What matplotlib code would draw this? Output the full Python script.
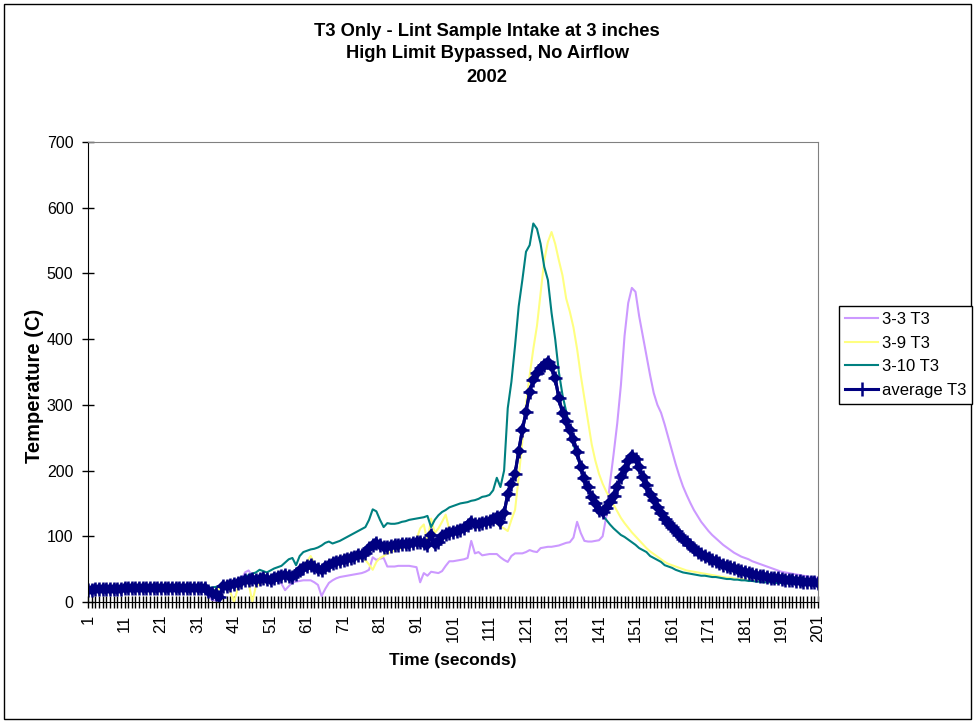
import matplotlib
matplotlib.use("Agg")
import matplotlib.pyplot as plt
from matplotlib.patches import Rectangle
from matplotlib.ticker import MultipleLocator, FixedLocator

# ==================== data ====================
time_s = list(range(1, 202))

t3_3_3 = [
    19, 19, 20, 20, 20, 20, 20, 20, 20, 20,
    21, 21, 21, 21, 21, 21, 21, 21, 21, 21,
    22, 22, 22, 22, 22, 22, 22, 22, 21, 22,
    22, 22, 21, 10, 3, 2, 12, 22, 24, 26,
    28, 30, 33, 45, 48, 40, 33, 30, 31, 32,
    33, 34, 35, 28, 18, 24, 30, 31, 32, 33,
    33, 33, 30, 26, 9, 20, 29, 33, 36, 38,
    39, 40, 41, 42, 43, 44, 46, 49, 68, 64,
    66, 67, 54, 54, 54, 55, 55, 55, 55, 54,
    53, 30, 44, 40, 46, 45, 44, 47, 55, 62,
    62, 63, 64, 65, 67, 93, 74, 76, 71, 72,
    73, 73, 73, 68, 64, 61, 70, 74, 74, 74,
    76, 79, 77, 76, 82, 83, 84, 84, 85, 86,
    88, 90, 91, 98, 122, 105, 93, 92, 92, 93,
    94, 100, 130, 181, 225, 272, 330, 405, 455, 478,
    472, 435, 405, 375, 345, 318, 300, 288, 270, 250,
    230, 210, 192, 176, 163, 151, 140, 131, 122, 115,
    108, 102, 97, 92, 87, 83, 79, 75, 72, 69,
    67, 65, 62, 60, 58, 56, 54, 52, 50, 48,
    46, 45, 44, 43, 42, 41, 40, 39, 38, 37,
    37,
]

t3_3_9 = [
    19, 19, 20, 20, 20, 20, 20, 20, 20, 20,
    21, 21, 21, 21, 21, 21, 21, 21, 21, 21,
    22, 22, 22, 22, 22, 22, 22, 22, 21, 22,
    22, 22, 21, 20, 18, 18, 20, 22, 24, 15,
    0, 20, 25, 33, 30, 0, 24, 28, 30, 32,
    34, 36, 38, 40, 41, 39, 38, 42, 50, 55,
    62, 70, 59, 52, 50, 54, 57, 59, 61, 62,
    64, 66, 67, 68, 67, 66, 64, 57, 49, 61,
    67, 70, 74, 76, 78, 80, 82, 84, 86, 88,
    95, 112, 118, 92, 127, 105, 112, 122, 133, 110,
    108, 110, 112, 114, 117, 119, 120, 121, 122, 124,
    125, 127, 120, 115, 112, 108, 125, 140, 190, 245,
    300, 345, 385, 420, 470, 520, 548, 563, 545, 520,
    497, 462, 442, 418, 385, 345, 310, 275, 240, 215,
    195, 180, 168, 158, 148, 138, 128, 120, 113, 106,
    100, 94, 88, 82, 77, 73, 69, 65, 61, 58,
    56, 54, 52, 50, 48, 47, 46, 45, 44, 43,
    42, 41, 40, 39, 38, 37, 37, 36, 35, 35,
    34, 33, 33, 32, 32, 31, 31, 30, 30, 30,
    29, 29, 29, 28, 28, 28, 27, 27, 27, 27,
    27,
]

t3_3_10 = [
    19, 19, 20, 20, 20, 20, 20, 20, 20, 20,
    21, 21, 21, 21, 21, 21, 21, 21, 21, 21,
    22, 22, 22, 22, 22, 22, 22, 22, 22, 22,
    22, 22, 22, 22, 22, 23, 23, 24, 25, 27,
    29, 31, 33, 37, 41, 43, 45, 49, 47, 45,
    48, 51, 53, 55, 60, 65, 67, 56, 70, 76,
    78, 80, 81, 83, 86, 90, 92, 89, 91, 93,
    96, 99, 102, 105, 108, 111, 114, 125, 141, 138,
    125, 114, 120, 119, 119, 120, 122, 123, 125, 126,
    127, 128, 129, 131, 114, 125, 132, 137, 140, 144,
    146, 148, 150, 151, 152, 154, 155, 157, 160, 161,
    163, 170, 189, 175, 200, 295, 335, 390, 450, 490,
    533, 543, 576, 568, 545, 510, 490, 440, 400, 350,
    315, 290, 265, 240, 222, 205, 188, 172, 160, 150,
    140, 132, 125, 118, 112, 107, 102, 99, 95, 91,
    87, 82, 79, 76, 70, 67, 64, 61, 56, 54,
    52, 49, 47, 45, 44, 43, 42, 41, 40, 40,
    39, 38, 38, 37, 36, 35, 35, 34, 34, 33,
    33, 32, 32, 31, 31, 30, 30, 30, 29, 29,
    29, 29, 28, 28, 28, 28, 27, 27, 27, 27,
    27,
]

t3_average = [
    19, 19, 20, 20, 20, 20, 20, 20, 20, 20,
    21, 21, 21, 21, 21, 21, 21, 21, 21, 21,
    22, 22, 22, 22, 22, 22, 22, 22, 21, 22,
    22, 22, 21, 17, 14, 12, 8, 24, 25, 26,
    27, 29, 31, 33, 34, 35, 34, 35, 36, 35,
    34, 36, 38, 40, 41, 39, 38, 42, 49, 52,
    55, 57, 53, 50, 49, 54, 57, 59, 61, 62,
    64, 66, 67, 69, 71, 72, 75, 82, 86, 90,
    87, 84, 84, 85, 86, 87, 88, 88, 89, 90,
    91, 91, 90, 87, 102, 88, 92, 100, 103, 105,
    106, 108, 110, 113, 117, 122, 118, 119, 120, 121,
    123, 127, 130, 122, 135, 165, 180, 195, 230, 262,
    289, 320, 338, 348, 356, 360, 365, 358, 341, 310,
    288, 275, 262, 248, 228, 205, 188, 175, 160, 150,
    140, 137, 143, 152, 162, 175, 190, 203, 215, 222,
    218, 206, 190, 178, 165, 155, 145, 135, 127, 120,
    114, 108, 102, 96, 91, 86, 80, 76, 73, 70,
    67, 64, 62, 60, 57, 55, 53, 51, 49, 47,
    45, 44, 42, 41, 40, 39, 38, 37, 37, 36,
    35, 34, 34, 33, 32, 32, 31, 31, 30, 30,
    29,
]

series_names = ["3-3 T3", "3-9 T3", "3-10 T3", "average T3"]
title_lines = ["T3 Only - Lint Sample Intake at 3 inches",
               "High Limit Bypassed, No Airflow",
               "2002"]
x_tick_labels = [str(v) for v in range(1, 202, 10)]

# ==================== style ====================
plt.rcParams["font.family"] = ["Liberation Sans", "DejaVu Sans"]

W, H = 975, 723
fig = plt.figure(figsize=(W / 100, H / 100), dpi=100)
ax = fig.add_axes([88 / W, 1 - 602 / H, 730 / W, 460 / H])

# raw series
ax.plot(time_s, t3_3_3, color="#CC99FF", lw=1.5, label=series_names[0])
ax.plot(time_s, t3_3_9, color="#FFFF80", lw=1.5, label=series_names[1])
ax.plot(time_s, t3_3_10, color="#008080", lw=1.5, label=series_names[2])

# average line: plus markers, with diamond markers underneath
ax.plot(time_s, t3_average, color="#000080", lw=2.2, marker="D", markersize=6,
        markeredgewidth=0)
ax.plot(time_s, t3_average, color="#000080", lw=2.2, marker="+", markersize=10,
        markeredgewidth=1.8, label=series_names[3])

# axes
ax.set_xlim(1, 201)
ax.set_ylim(0, 700)
ax.yaxis.set_major_locator(MultipleLocator(100))
ax.xaxis.set_major_locator(FixedLocator(list(range(1, 202, 10))))
ax.xaxis.set_minor_locator(FixedLocator(time_s))
ax.set_xticklabels(x_tick_labels, rotation=90)
ax.tick_params(axis="x", which="both", direction="inout", length=8,
               width=1, color="black", labelsize=12, pad=5)
ax.tick_params(axis="y", which="both", direction="inout", length=9,
               width=1, color="black", labelsize=11.5, pad=6)

for side in ["top", "right"]:
    ax.spines[side].set_color("#808080")
for side in ["left", "bottom"]:
    ax.spines[side].set_color("black")

ax.set_xlabel("Time (seconds)", fontweight="bold", fontsize=12.5, va="center")
ax.xaxis.set_label_coords((453 - 88) / 730, -(660 - 602) / 460)
ax.set_ylabel("Temperature (C)", fontweight="bold", fontsize=14.5, va="center")
ax.yaxis.set_label_coords((35 - 88) / 730, (602 - 386) / 460)

# three-line bold title
for line, y_pix in zip(title_lines, [31, 54, 77]):
    fig.text(487 / W, 1 - y_pix / H, line, ha="center", va="center",
             fontweight="bold", fontsize=13.2)

# legend outside on the right
handles, labels = ax.get_legend_handles_labels()
leg = fig.legend(handles, labels, loc="upper left",
                 bbox_to_anchor=(839 / W, 1 - 306 / H), borderaxespad=0,
                 fancybox=False, edgecolor="black", framealpha=1,
                 handlelength=2.0, handletextpad=0.2, labelspacing=0.52,
                 borderpad=0.35, fontsize=12)
leg.get_frame().set_linewidth(1)

# outer chart border
fig.patches.append(Rectangle((4 / W, 4 / H), 967 / W, 715 / H,
                             transform=fig.transFigure, fill=False,
                             edgecolor="black", lw=1))

fig.savefig("out.png", dpi=100)
